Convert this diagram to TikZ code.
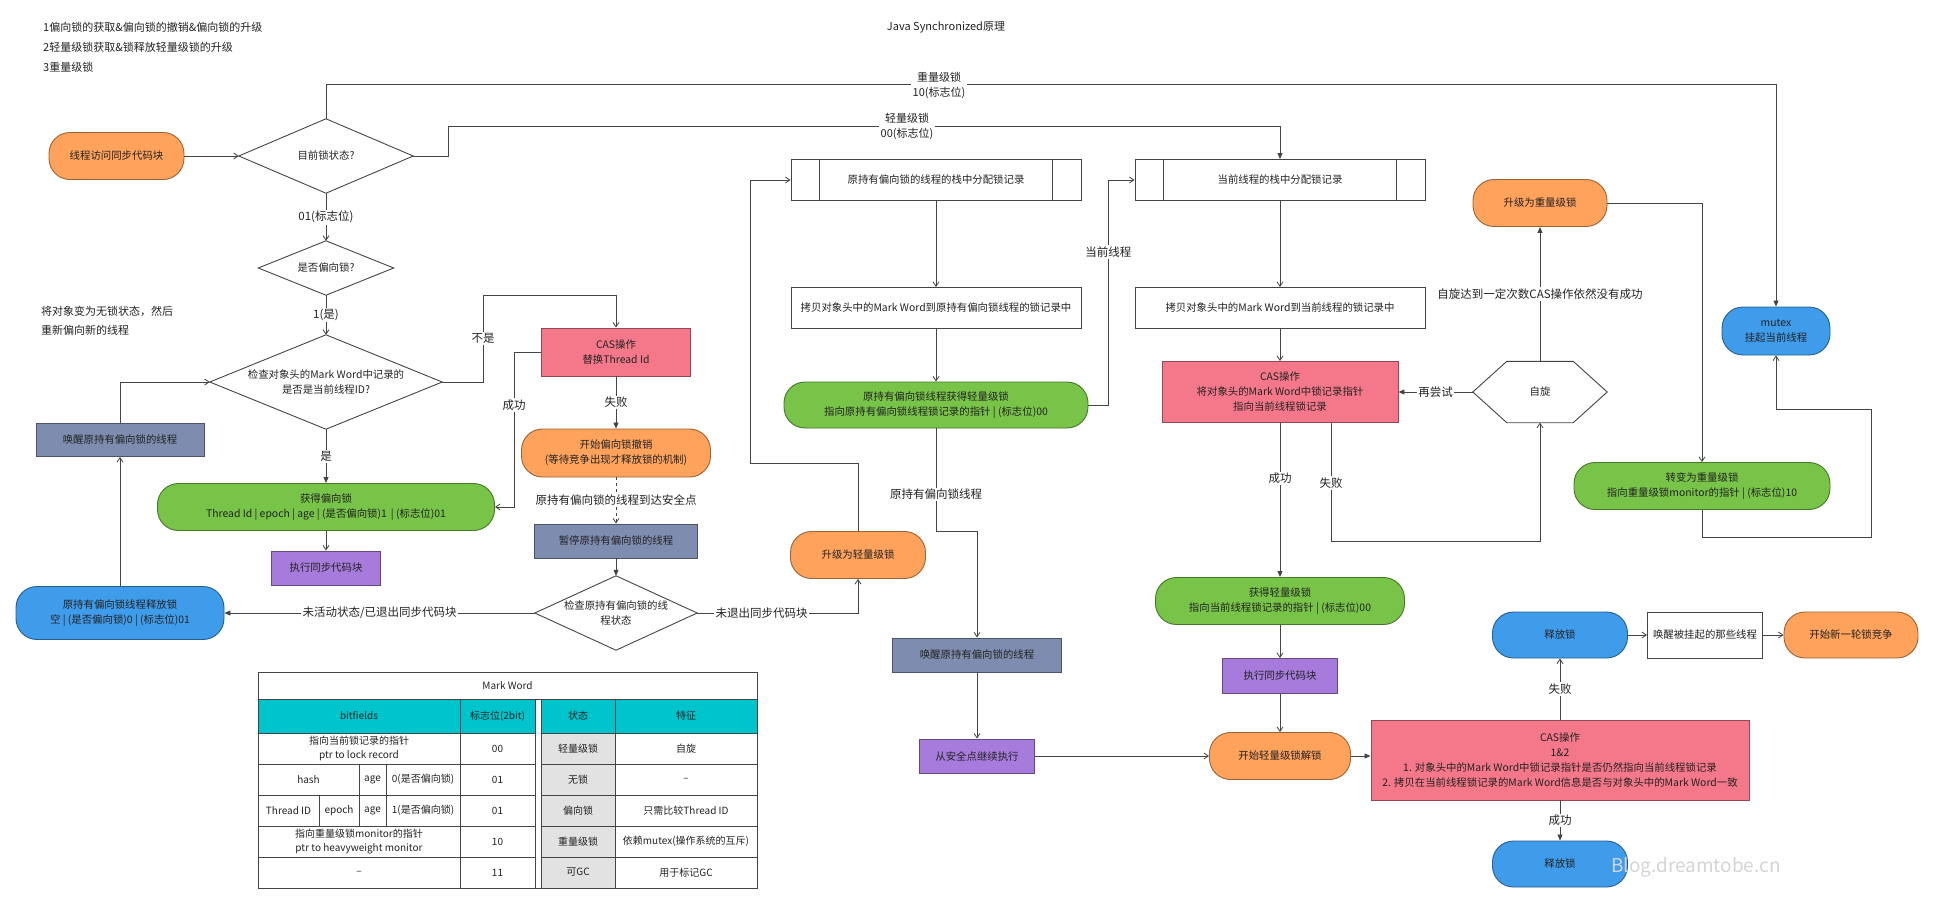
\documentclass[tikz,border=0pt]{standalone}
\usepackage{fontspec}
\setmainfont{Noto Sans CJK SC}
\usetikzlibrary{arrows.meta}
\definecolor{linec}{HTML}{444444}
\definecolor{textc}{HTML}{222222}
\definecolor{lockorange}{HTML}{FFA35C}
\definecolor{lockgreen}{HTML}{78C448}
\definecolor{lockpink}{HTML}{F5788A}
\definecolor{lockslate}{HTML}{7E8CB0}
\definecolor{lockpurple}{HTML}{A67BDC}
\definecolor{lockblue}{HTML}{3F9CEB}
\definecolor{headc}{HTML}{00C4CC}
\definecolor{cellg}{HTML}{E2E2E2}
\newcommand{\drawdia}[1]{\draw[draw=linec, line width=0.9pt] (#1.north) -- (#1.east) -- (#1.south) -- (#1.west) -- cycle;}
\newcommand{\drawbars}[2]{\draw[draw=linec, line width=0.9pt] ([xshift=#2]#1.north west) -- ([xshift=#2]#1.south west) ([xshift=-#2]#1.north east) -- ([xshift=-#2]#1.south east);}
\begin{document}
\begin{tikzpicture}[x=1pt,y=1pt,yscale=-1,xscale=1,
    txt/.style={font=\fontsize{10.4}{15}\selectfont, text=textc, align=center, inner sep=1pt},
    term/.style={txt, draw=#1!60!black, fill=#1, line width=0.9pt, rounded corners=21pt},
    proc/.style={txt, draw=#1!60!black, fill=#1, line width=0.9pt},
    plain/.style={txt, draw=linec, fill=white, line width=0.9pt},
    decision/.style={txt, inner sep=0pt},
    lbl/.style={font=\fontsize{11.5}{14}\selectfont, text=textc, fill=white, inner sep=1.5pt, align=center},
    note/.style={font=\fontsize{11}{14}\selectfont, text=textc, anchor=west, inner sep=0pt},
    arr/.style={draw=linec, line width=0.8pt, -{Straight Barb[length=4.5pt,width=6pt]}},
    farr/.style={draw=linec, line width=0.8pt, -{Triangle[length=6pt,width=5pt]}},
    cell/.style={font=\fontsize{10}{14}\selectfont, text=textc, align=center, inner sep=0pt},
    tline/.style={draw=linec, line width=0.7pt}]
\useasboundingbox (0,0) rectangle (1933,903);

\node[note] (note1) at (43,27) {1偏向锁的获取\&偏向锁的撤销\&偏向锁的升级};
\node[note] (note2) at (43,47) {2轻量级锁获取\&锁释放轻量级锁的升级};
\node[note] (note3) at (43,67) {3重量级锁};
\node[note] (note4) at (41,311) {将对象变为无锁状态，然后};
\node[note] (note5) at (41,330) {重新偏向新的线程};
\node[note, anchor=center] (title) at (946,27) {Java Synchronized原理};

\node[term=lockorange, minimum width=135, minimum height=47] (start) at (116.5,156) {线程访问同步代码块};
\node[decision, minimum width=174, minimum height=74] (dia1) at (326,156) {目前锁状态?};
\node[decision, minimum width=135, minimum height=54] (dia2) at (326,268) {是否偏向锁?};
\node[decision, minimum width=232, minimum height=94] (dia3) at (326,382) {检查对象头的Mark Word中记录的\\是否是当前线程ID?};
\node[proc=lockslate, minimum width=168, minimum height=33] (slate1) at (120,440) {唤醒原持有偏向锁的线程};
\node[term=lockblue, minimum width=208, minimum height=53] (blue1) at (120,613) {原持有偏向锁线程释放锁\\空 | (是否偏向锁)0 | (标志位)01};
\node[term=lockgreen, minimum width=337, minimum height=47] (green1) at (326,507) {获得偏向锁\\Thread Id | epoch | age | (是否偏向锁)1 \,| (标志位)01};
\node[proc=lockpurple, minimum width=109, minimum height=34] (purple1) at (326,568) {执行同步代码块};
\node[proc=lockpink, minimum width=149, minimum height=48] (cas1) at (616,352) {CAS操作\\替换Thread Id};
\node[term=lockorange, minimum width=189, minimum height=48] (orange1) at (616,453) {开始偏向锁撤销\\(等待竞争出现才释放锁的机制)};
\node[proc=lockslate, minimum width=163, minimum height=34] (slate2) at (616,541) {暂停原持有偏向锁的线程};
\node[decision, minimum width=162, minimum height=74] (dia4) at (616,613) {检查原持有偏向锁的线\\程状态};
\node[term=lockorange, minimum width=135, minimum height=47] (orange2) at (858,555) {升级为轻量级锁};
\node[plain, minimum width=290, minimum height=41] (box1) at (936,180) {原持有偏向锁的线程的栈中分配锁记录};
\node[plain, minimum width=290, minimum height=41] (box2) at (936,308) {拷贝对象头中的Mark Word到原持有偏向锁线程的锁记录中};
\node[term=lockgreen, minimum width=304, minimum height=46] (green2) at (936,405) {原持有偏向锁线程获得轻量级锁\\指向原持有偏向锁线程锁记录的指针 | (标志位)00};
\node[proc=lockslate, minimum width=169, minimum height=34] (slate3) at (977,655) {唤醒原持有偏向锁的线程};
\node[proc=lockpurple, minimum width=115, minimum height=34] (purple2) at (977,756) {从安全点继续执行};
\node[plain, minimum width=290, minimum height=41] (box3) at (1280,180) {当前线程的栈中分配锁记录};
\node[plain, minimum width=290, minimum height=41] (box4) at (1280,308) {拷贝对象头中的Mark Word到当前线程的锁记录中};
\node[proc=lockpink, minimum width=236, minimum height=61] (cas2) at (1280,392) {CAS操作\\将对象头的Mark Word中锁记录指针\\指向当前线程锁记录};
\node[decision, minimum width=134, minimum height=61] (spin) at (1540,392) {自旋};
\node[term=lockorange, minimum width=134, minimum height=47] (orange4) at (1540,203) {升级为重量级锁};
\node[term=lockblue, minimum width=108, minimum height=48] (mutex) at (1776,331) {mutex\\挂起当前线程};
\node[term=lockgreen, minimum width=256, minimum height=47] (green4) at (1702,486) {转变为重量级锁\\指向重量级锁monitor的指针 | (标志位)10};
\node[term=lockgreen, minimum width=249, minimum height=47] (green3) at (1280,601) {获得轻量级锁\\指向当前线程锁记录的指针 | (标志位)00};
\node[proc=lockpurple, minimum width=115, minimum height=35] (purple3) at (1280,676) {执行同步代码块};
\node[term=lockorange, minimum width=141, minimum height=47] (orange3) at (1280,756) {开始轻量级锁解锁};
\node[proc=lockpink, minimum width=378, minimum height=80] (cas3) at (1560,760) {CAS操作\\1\&2\\1. 对象头中的Mark Word中锁记录指针是否仍然指向当前线程锁记录\\2. 拷贝在当前线程锁记录的Mark Word信息是否与对象头中的Mark Word一致};
\node[term=lockblue, minimum width=135, minimum height=46] (release1) at (1560,635) {释放锁};
\node[plain, minimum width=115, minimum height=46] (wake) at (1705,635) {唤醒被挂起的那些线程};
\node[term=lockorange, minimum width=134, minimum height=46] (orange5) at (1851,635) {开始新一轮锁竞争};
\node[term=lockblue, minimum width=135, minimum height=46] (release2) at (1560,864) {释放锁};

\drawdia{dia1}
\drawdia{dia2}
\drawdia{dia3}
\drawdia{dia4}
\drawbars{box1}{29pt}
\drawbars{box3}{29pt}
\draw[draw=linec, line width=0.9pt] ([xshift=34pt]spin.north west) -- ([xshift=-34pt]spin.north east) -- (spin.east) -- ([xshift=-34pt]spin.south east) -- ([xshift=34pt]spin.south west) -- (spin.west) -- cycle;

\draw[arr] (start) -- (dia1);
\draw[farr] (dia1.north) -- ++(0,-34) -| (mutex.north);
\node[lbl, font=\fontsize{11}{15}\selectfont] (heavylbl) at (939,85) {重量级锁\\10(标志位)};
\draw[farr] (dia1.east) -- ++(35,0) -- ++(0,-30) -| (box3.north);
\node[lbl, font=\fontsize{11}{15}\selectfont] (lightlbl) at (907,126) {轻量级锁\\00(标志位)};
\draw[arr] (dia1.south) -- (dia2.north) node[lbl, midway] {01(标志位)};
\draw[arr] (dia2.south) -- (dia3.north) node[lbl, midway] {1(是)};
\draw[farr] (dia3.south) -- (green1.north) node[lbl, midway] {是};
\draw[arr] (dia3.east) -- ++(41,0) -- ++(0,-87) node[lbl, midway] {不是} -| (cas1.north);
\draw[arr] (cas1.west) -- ++(-27,0) |- (green1.east) node[lbl, pos=0.17] {成功};
\draw[farr] (cas1.south) -- (orange1.north) node[lbl, midway] {失败};
\draw[arr, dash pattern=on 3pt off 3pt] (orange1.south) -- (slate2.north) node[lbl, midway] {原持有偏向锁的线程到达安全点};
\draw[farr] (slate2.south) -- (dia4.north);
\draw[farr] (dia4.west) -- (blue1.east) node[lbl, midway] {未活动状态/已退出同步代码块};
\draw[arr] (dia4.east) -| (orange2.south) node[lbl, pos=0.2] {未退出同步代码块};
\draw[arr] (orange2.north) -- ++(0,-68) -- ++(-108,0) |- (box1.west);
\draw[arr] (green1.south) -- (purple1.north);
\draw[arr] (blue1.north) -- (slate1.south);
\draw[arr] (slate1.north) |- (dia3.west);
\draw[arr] (box1.south) -- (box2.north);
\draw[arr] (box2.south) -- (green2.north);
\draw[arr] (green2.east) -- ++(20,0) |- (box3.west) node[lbl, pos=0.34] {当前线程};
\draw[arr] (green2.south) -- ++(0,103) node[lbl, pos=0.64] {原持有偏向锁线程} -| (slate3.north);
\draw[arr] (slate3.south) -- (purple2.north);
\draw[arr] (purple2.east) -- (orange3.west);
\draw[arr] (box3.south) -- (box4.north);
\draw[arr] (box4.south) -- (cas2.north);
\draw[farr] (cas2.south) -- (green3.north) node[lbl, pos=0.36] {成功};
\draw[arr] ([xshift=51pt]cas2.south) -- ++(0,118) node[lbl, pos=0.51] {失败} -| (spin.south);
\draw[farr] (spin.west) -- (cas2.east) node[lbl, midway] {再尝试};
\draw[farr] (spin.north) -- (orange4.south) node[lbl, midway] {自旋达到一定次数CAS操作依然没有成功};
\draw[arr] (orange4.east) -| (green4.north);
\draw[arr] (green4.south) -- ++(0,27) -| ++(169,-128) -| (mutex.south);
\draw[arr] (green3.south) -- (purple3.north);
\draw[arr] (purple3.south) -- (orange3.north);
\draw[farr] (orange3.east) -- (orange3.east -| cas3.west);
\draw[arr] (cas3.north) -- (release1.south) node[lbl, midway] {失败};
\draw[farr] (cas3.south) -- (release2.north) node[lbl, midway] {成功};
\draw[arr] (release1.east) -- (wake.west);
\draw[arr] (wake.east) -- (orange5.west);

\fill[headc] (258,699) rectangle (535,733);
\fill[headc] (541,699) rectangle (757,733);
\fill[cellg] (541,733) rectangle (615,888);
\draw[tline] (258,672) rectangle (757,888);
\draw[tline] (258,699) -- (757,699);
\foreach \y in {733,764,795,826,857}
  \draw[tline] (258,\y) -- (535,\y) (541,\y) -- (757,\y);
\foreach \x in {460,535,541,615}
  \draw[tline] (\x,699) -- (\x,888);
\draw[tline] (359,764) -- (359,826) (386,764) -- (386,826) (319,795) -- (319,826);
\node[cell] (mwtitle) at (507.5,686) {Mark Word};
\node[cell] (hbits) at (359,716) {bitfields};
\node[cell] (hflag) at (497.5,716) {标志位(2bit)};
\node[cell] (hstate) at (578,716) {状态};
\node[cell] (hfeat) at (686,716) {特征};
\node[cell] (r1bits) at (359,748.5) {指向当前锁记录的指针\\ptr to lock record};
\node[cell] (r1flag) at (497.5,748.5) {00};
\node[cell] (r1state) at (578,748.5) {轻量级锁};
\node[cell] (r1feat) at (686,748.5) {自旋};
\node[cell] (r2hash) at (308.5,779.5) {hash};
\node[cell] (r2age) at (372.5,779.5) {age};
\node[cell] (r2bias) at (423,779.5) {0(是否偏向锁)};
\node[cell] (r2flag) at (497.5,779.5) {01};
\node[cell] (r2state) at (578,779.5) {无锁};
\node[cell] (r2feat) at (686,779.5) {–};
\node[cell] (r3tid) at (288.5,810.5) {Thread ID};
\node[cell] (r3epoch) at (339,810.5) {epoch};
\node[cell] (r3age) at (372.5,810.5) {age};
\node[cell] (r3bias) at (423,810.5) {1(是否偏向锁)};
\node[cell] (r3flag) at (497.5,810.5) {01};
\node[cell] (r3state) at (578,810.5) {偏向锁};
\node[cell] (r3feat) at (686,810.5) {只需比较Thread ID};
\node[cell] (r4bits) at (359,841.5) {指向重量级锁monitor的指针\\ptr to heavyweight monitor};
\node[cell] (r4flag) at (497.5,841.5) {10};
\node[cell] (r4state) at (578,841.5) {重量级锁};
\node[cell] (r4feat) at (686,841.5) {依赖mutex(操作系统的互斥)};
\node[cell] (r5bits) at (359,872.5) {–};
\node[cell] (r5flag) at (497.5,872.5) {11};
\node[cell] (r5state) at (578,872.5) {可GC};
\node[cell] (r5feat) at (686,872.5) {用于标记GC};

\node[font=\fontsize{19}{22}\selectfont, text=black!17] (wm) at (1696,867) {Blog.dreamtobe.cn};
\end{tikzpicture}
\end{document}
